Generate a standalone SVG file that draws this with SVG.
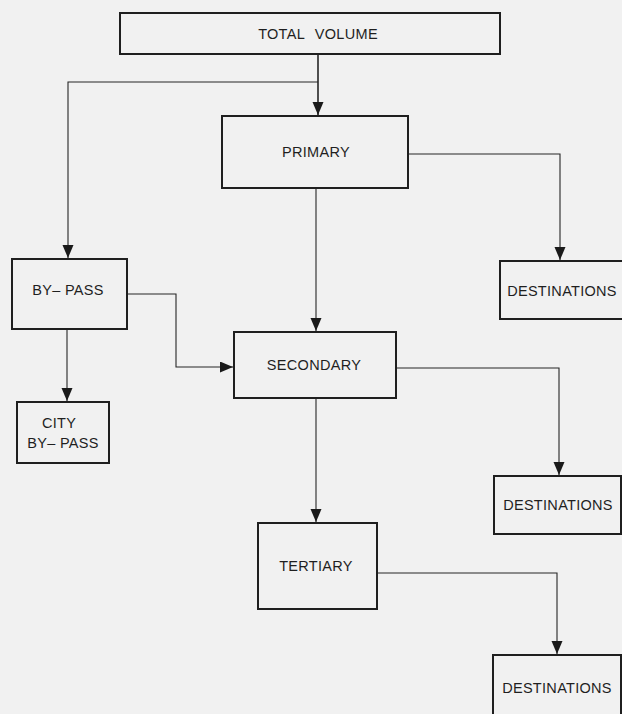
<svg xmlns="http://www.w3.org/2000/svg" width="622" height="714" viewBox="0 0 622 714">
<defs>
<marker id="arr" markerUnits="userSpaceOnUse" markerWidth="14" markerHeight="12" refX="13" refY="5.500" orient="auto">
<path d="M0,0 L13,5.500 L0,11 Z" fill="#1a1a1a"/>
</marker>
<style>
.box{fill:none;stroke:#1f1f1f;stroke-width:2}
.lbl{font-family:"Liberation Sans",Arial,sans-serif;font-size:14.5px;fill:#1f1f1f;text-anchor:middle;letter-spacing:0.3px}
.tv{word-spacing:6px}
.c{fill:none;stroke:#262626;stroke-width:1.1}
.cm{fill:none;stroke:#262626;stroke-width:1.6}
</style>
</defs>
<rect width="622" height="714" fill="#f1f1f1"/>
<g id="connectors">
<path class="cm" d="M318,54 V115" marker-end="url(#arr)"/>
<path class="c" d="M318,82 H68 V258" marker-end="url(#arr)"/>
<path class="c" d="M408,154 H560 V260" marker-end="url(#arr)"/>
<path class="c" d="M316,188 V331" marker-end="url(#arr)"/>
<path class="c" d="M127,294 H176 V367 H233" marker-end="url(#arr)"/>
<path class="c" d="M67,329 V401" marker-end="url(#arr)"/>
<path class="c" d="M396,368 H559 V475" marker-end="url(#arr)"/>
<path class="c" d="M316,398 V522" marker-end="url(#arr)"/>
<path class="c" d="M377,573 H557 V654" marker-end="url(#arr)"/>
</g>
<g id="total-volume">
<rect class="box" x="120" y="13" width="380" height="41"/>
<text class="lbl tv" x="318" y="38.500">TOTAL VOLUME</text>
</g>
<g id="primary">
<rect class="box" x="222" y="116" width="186" height="72"/>
<text class="lbl" x="316" y="157">PRIMARY</text>
</g>
<g id="destinations-1">
<rect class="box" x="500" y="261" width="124" height="58"/>
<text class="lbl" x="562" y="296">DESTINATIONS</text>
</g>
<g id="by-pass">
<rect class="box" x="12" y="259" width="115" height="70"/>
<text class="lbl" x="68" y="295">BY– PASS</text>
</g>
<g id="secondary">
<rect class="box" x="234" y="332" width="162" height="66"/>
<text class="lbl" x="314" y="370">SECONDARY</text>
</g>
<g id="city-by-pass">
<rect class="box" x="17" y="402" width="92" height="61"/>
<text class="lbl" x="59" y="428">CITY</text>
<text class="lbl" x="63" y="448">BY– PASS</text>
</g>
<g id="destinations-2">
<rect class="box" x="494" y="476" width="127" height="58"/>
<text class="lbl" x="558" y="510">DESTINATIONS</text>
</g>
<g id="tertiary">
<rect class="box" x="258" y="523" width="119" height="86"/>
<text class="lbl" x="316" y="571">TERTIARY</text>
</g>
<g id="destinations-3">
<rect class="box" x="493" y="655" width="128" height="70"/>
<text class="lbl" x="557" y="693">DESTINATIONS</text>
</g>
</svg>
